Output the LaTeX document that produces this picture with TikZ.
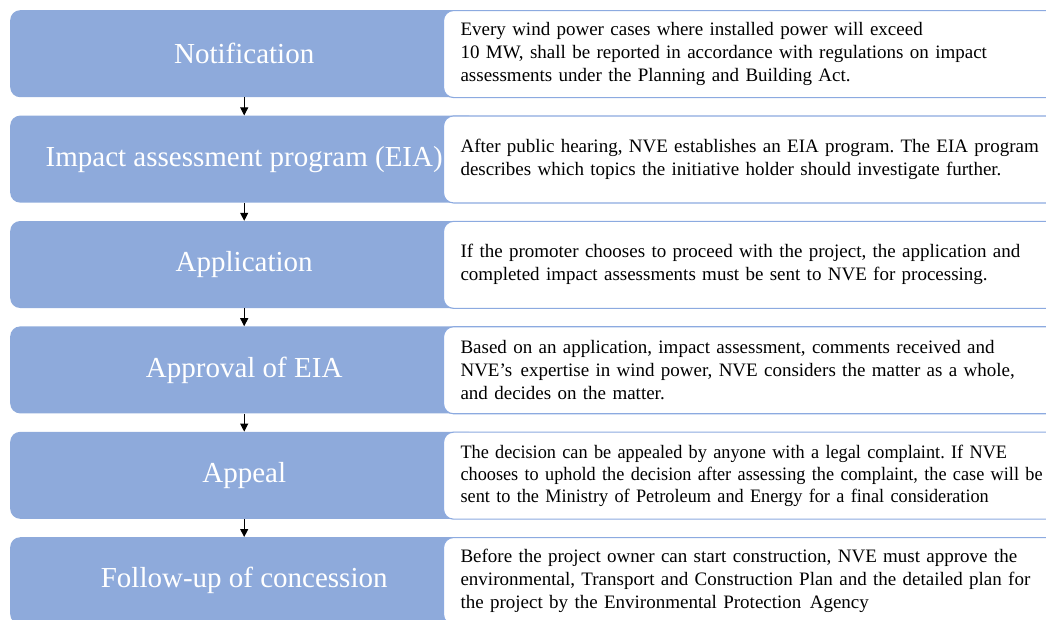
\documentclass[tikz,border=0pt]{standalone}
\usepackage{fontspec}
\setmainfont{Liberation Serif}
\newfontfamily\narrowserif[FakeStretch=0.96]{Liberation Serif}
\usetikzlibrary{arrows.meta}
\definecolor{stepblue}{HTML}{8EAADB}
\definecolor{edgeblue}{HTML}{8CAAE0}
\begin{document}
\frenchspacing
\begin{tikzpicture}[x=1pt,y=-1pt,
  stagebox/.style={fill=stepblue, rounded corners=10pt, minimum width=468pt, minimum height=87pt,
    inner sep=0pt, text=white, font=\fontsize{29}{34}\selectfont, anchor=north west},
  notebox/.style={fill=white, draw=edgeblue, line width=1.1pt, rounded corners=10pt,
    minimum width=640pt, minimum height=87pt, text width=606pt, inner xsep=17pt, inner ysep=0pt,
    align=left, anchor=north west, font=\fontsize{19}{23}\selectfont},
  flow/.style={-{Triangle[length=8pt,width=8pt]}, line width=1pt}]
\useasboundingbox (0,0) rectangle (1046,619);
\clip (0,0) rectangle (1046,619);

\node[stagebox] (b1) at (10,10) {Notification};
\node[stagebox] (b2) at (10,115.4) {Impact assessment program (EIA)};
\node[stagebox] (b3) at (10,220.8) {Application};
\node[stagebox] (b4) at (10,326.2) {Approval of EIA};
\node[stagebox] (b5) at (10,431.6) {Appeal};
\node[stagebox] (b6) at (10,537) {Follow-up of concession};

\node[notebox] (w1) at (443,10) {Every wind power cases where installed power will exceed\\10 MW, shall be reported in accordance with regulations on impact\\assessments under the Planning and Building Act.};
\node[notebox] (w2) at (443,115.4) {After public hearing, NVE establishes an EIA program. The EIA program\\describes which topics the initiative holder should investigate further.};
\node[notebox] (w3) at (443,220.8) {If the promoter chooses to proceed with the project, the application and\\completed impact assessments must be sent to NVE for processing.};
\node[notebox] (w4) at (443,326.2) {Based on an application, impact assessment, comments received and\\NVE’s\hspace{2pt} expertise in wind power, NVE considers the matter as a whole,\\and decides on the matter.};
\node[notebox, font=\fontsize{19}{22}\narrowserif] (w5) at (443,431.6) {The decision can be appealed by anyone with a legal complaint. If NVE\\chooses to uphold the decision after assessing the complaint, the case will be\\sent to the Ministry of Petroleum and Energy for a final consideration};
\node[notebox] (w6) at (443,537) {Before the project owner can start construction, NVE must approve the\\environmental, Transport and Construction Plan and the detailed plan for\\the project by the Environmental Protection\hspace{2pt} Agency};

\draw[flow] (b1) -- (b2);
\draw[flow] (b2) -- (b3);
\draw[flow] (b3) -- (b4);
\draw[flow] (b4) -- (b5);
\draw[flow] (b5) -- (b6);
\end{tikzpicture}
\end{document}
